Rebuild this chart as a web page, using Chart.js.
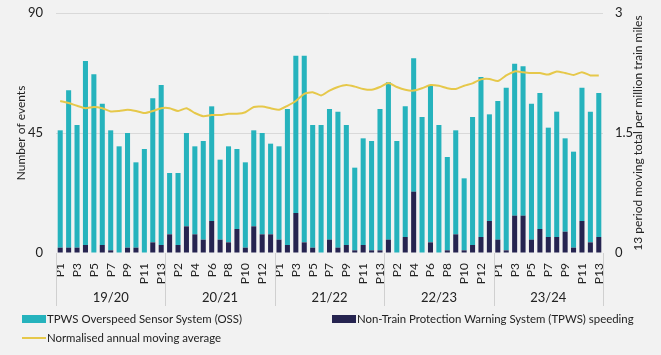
<!DOCTYPE html>
<html><head><meta charset="utf-8">
<script src="https://cdn.jsdelivr.net/npm/chart.js@4"></script>
<style>
html,body{margin:0;padding:0;background:#f2f2f2;}
#wrap{position:relative;width:661px;height:355px;font-family:Lato,sans-serif;}
canvas{position:absolute;left:0;top:0;}
.lg{position:absolute;font-size:11.4px;color:#222;white-space:nowrap;display:flex;align-items:center;}
.sw{display:inline-block;width:24px;height:8px;margin-right:1px;}
.ln{display:inline-block;width:24px;height:2px;margin-right:1px;background:#e6c84a;}
</style></head><body>
<div id="wrap"><canvas id="c" width="661" height="355"></canvas>
<div class="lg" style="left:22px;top:312px;"><span class="sw" style="background:#26b3bd"></span>TPWS Overspeed Sensor System (OSS)</div>
<div class="lg" style="left:332px;top:312px;"><span class="sw" style="background:#262450"></span>Non-Train Protection Warning System (TPWS) speeding</div>
<div class="lg" style="left:22px;top:331px;"><span class="ln"></span>Normalised annual moving average</div>
</div>
<script>
const years = ["19/20","20/21","21/22","22/23","23/24"];
const periods = ["P1","P2","P3","P4","P5","P6","P7","P8","P9","P10","P11","P12","P13"];
// total bar heights (OSS + TPWS)
const totals = [
 46,61,48,72,67,56,46,40,45,34,39,58,63,
 30,30,45,40,42,55,35,40,39,34,46,45,41,
 40,54,74,74,48,48,54,53,48,32,43,42,54,
 64,42,55,73,51,63,48,36,46,28,51,66,52,
 57,62,71,70,56,60,47,53,43,38,62,53,60
];
const tpws = [
 2,2,2,3,0,3,1,0,2,2,0,4,3,
 7,3,10,7,5,12,5,4,9,2,10,7,7,
 5,3,15,4,2,0,5,2,3,1,3,1,1,
 5,0,6,23,0,4,0,1,7,1,3,6,12,
 5,1,14,14,5,9,6,6,8,2,12,4,6
];
const oss = totals.map((t,i)=>t-tpws[i]);
const movingAvg = [
 1.90,1.875,1.84,1.81,1.825,1.81,1.77,1.775,1.79,1.775,1.75,1.775,1.81,
 1.81,1.775,1.81,1.75,1.71,1.725,1.725,1.74,1.74,1.76,1.825,1.83,1.81,
 1.79,1.84,1.90,1.99,2.01,1.97,2.03,2.075,2.10,2.08,2.05,2.04,2.075,
 2.125,2.075,2.04,2.03,2.06,2.10,2.09,2.06,2.05,2.09,2.12,2.17,2.175,
 2.15,2.22,2.27,2.26,2.25,2.25,2.23,2.27,2.25,2.225,2.26,2.22,2.22
];
const leftTicks = [0,45,90];
const rightTicks = [0,1.5,3];
const rightTitle = '13 period moving total per million train miles';
const labels = [];
years.forEach(y=>periods.forEach(p=>labels.push(p)));

const groupPlugin = {
  id:'groups',
  afterDraw(chart){
    const ctx = chart.ctx, x = chart.scales.x, top = chart.chartArea.bottom;
    const half = (x.getPixelForValue(1)-x.getPixelForValue(0))/2;
    ctx.save();
    ctx.strokeStyle = '#d0d0d0'; ctx.lineWidth = 1;
    for(let g=0; g<=years.length; g++){
      const idx = g*periods.length;
      const px = Math.round(x.getPixelForValue(idx) - half) + 0.5;
      ctx.beginPath(); ctx.moveTo(px, top); ctx.lineTo(px, top+53); ctx.stroke();
    }
    ctx.fillStyle = '#222'; ctx.font = '13px Lato'; ctx.textAlign='center'; ctx.textBaseline='middle';
    years.forEach((y,g)=>{
      const a = x.getPixelForValue(g*periods.length), b = x.getPixelForValue(g*periods.length+periods.length-1);
      ctx.fillText(y, (a+b)/2, top+45);
    });
    // right axis title, reading bottom-to-top
    const ca = chart.chartArea;
    ctx.translate(638, (ca.top+ca.bottom)/2);
    ctx.rotate(-Math.PI/2);
    ctx.font = '12px Lato';
    ctx.fillText(rightTitle, 0, 0);
    ctx.restore();
  }
};

new Chart(document.getElementById('c'), {
  data:{
    labels,
    datasets:[
      {type:'line', label:'Normalised annual moving average', data:movingAvg, yAxisID:'y1',
       borderColor:'#e6c84a', borderWidth:2, pointRadius:0, tension:0.2, order:0},
      {type:'bar', label:'Non-Train Protection Warning System (TPWS) speeding', data:tpws, yAxisID:'y',
       backgroundColor:'#262450', stack:'s', barPercentage:0.6, categoryPercentage:1, order:1},
      {type:'bar', label:'TPWS Overspeed Sensor System (OSS)', data:oss, yAxisID:'y',
       backgroundColor:'#26b3bd', stack:'s', barPercentage:0.6, categoryPercentage:1, order:1}
    ]
  },
  options:{
    responsive:false, animation:false,
    layout:{padding:{top:13,left:14,right:0,bottom:0}},
    plugins:{legend:{display:false}, tooltip:{enabled:false}},
    scales:{
      x:{stacked:true, grid:{display:false}, border:{display:false},
         ticks:{autoSkip:false, minRotation:90, maxRotation:90, padding:2, color:'#222', font:{family:'Lato', size:12},
           callback:(v,i)=> i%2===0 ? labels[i] : ''},
         afterFit(s){ s.height = 102; s.paddingLeft = 0; s.paddingRight = 0; }},
      y:{stacked:true, position:'left', min:0, max:90,
         afterBuildTicks(s){ s.ticks = leftTicks.map(v=>({value:v})); },
         grid:{color:(c)=> c.tick && c.tick.value===0 ? 'rgba(0,0,0,0)' : '#d9d9d9', drawTicks:false},
         border:{display:false},
         ticks:{padding:13, color:'#222', font:{family:'Lato', size:13}},
         title:{display:true, text:'Number of events', color:'#222', font:{family:'Lato', size:12}, padding:{top:0,bottom:4}},
         afterFit(s){ s.width = 42; s.paddingTop = 0; s.paddingBottom = 0; }},
      y1:{position:'right', min:0, max:3,
         afterBuildTicks(s){ s.ticks = rightTicks.map(v=>({value:v})); },
         grid:{display:false, drawTicks:false}, border:{display:false},
         ticks:{padding:12, color:'#222', font:{family:'Lato', size:13}},
         afterFit(s){ s.width = 58; s.paddingTop = 0; s.paddingBottom = 0; }}
    }
  },
  plugins:[groupPlugin]
});
</script>
</body></html>
